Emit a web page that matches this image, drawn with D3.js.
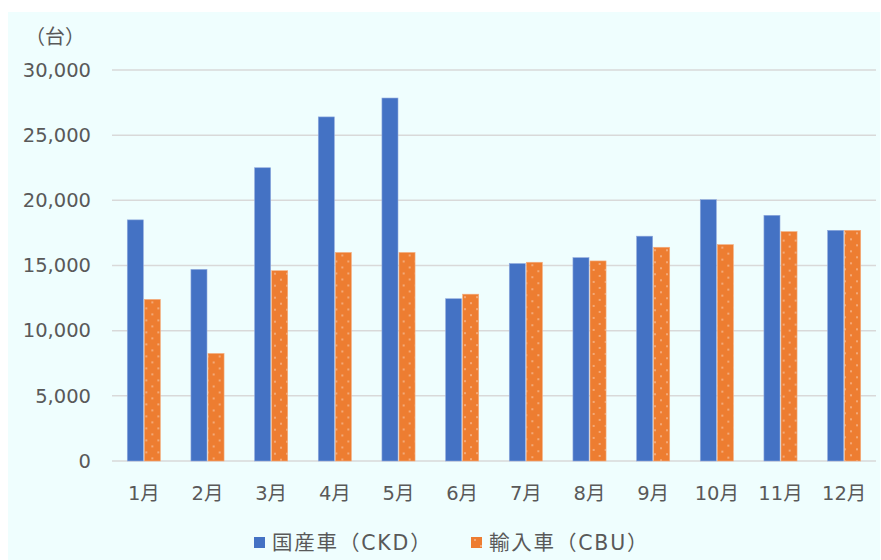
<!DOCTYPE html>
<html>
<head>
<meta charset="utf-8">
<script src="https://cdn.jsdelivr.net/npm/d3@7"></script>
<style>
  body { margin: 0; background: #ffffff; }
  svg text { font-family: "DejaVu Sans", "Noto Sans CJK JP", sans-serif; fill: #595959; }
</style>
</head>
<body>
<svg id="chart" width="881" height="560"></svg>
<script>
// Monthly vehicle sales (units): locally assembled vs. imported
const months = ["1月", "2月", "3月", "4月", "5月", "6月", "7月", "8月", "9月", "10月", "11月", "12月"];
const seriesNames = ["国産車（CKD）", "輸入車（CBU）"];
const ckdUnits = [18500, 14700, 22500, 26400, 27850, 12450, 15150, 15600, 17250, 20050, 18850, 17700];
const cbuUnits = [12400, 8250, 14600, 16000, 16000, 12800, 15250, 15350, 16400, 16600, 17600, 17700];
const yTicks = [0, 5000, 10000, 15000, 20000, 25000, 30000];
const unitLabel = "（台）";

const colors = { ckd: "#4472C4", cbu: "#ED7D31" };
const fontStack = "\"DejaVu Sans\", \"Noto Sans CJK JP\", sans-serif";

const svg = d3.select("#chart");
const W = 881, H = 560;
const plot = { left: 112, right: 876, top: 70, bottom: 461 };

// panel background
svg.append("rect")
  .attr("x", 8).attr("y", 12)
  .attr("width", W - 9).attr("height", H - 12)
  .attr("fill", "#effefe");

const rows = months.map((m, i) => ({ month: m, ckd: ckdUnits[i], cbu: cbuUnits[i] }));
const keys = ["ckd", "cbu"];

const x0 = d3.scaleBand().domain(months).range([plot.left, plot.right]).padding(0);
const bw = x0.bandwidth();
const x1 = d3.scaleBand().domain(keys).range([bw * 0.24, bw * 0.76]).paddingInner(0.06);
const y = d3.scaleLinear().domain([0, 30000]).range([plot.bottom, plot.top]);

// gridlines
svg.append("g")
  .selectAll("line")
  .data(yTicks)
  .join("line")
  .attr("x1", plot.left).attr("x2", plot.right)
  .attr("y1", d => y(d)).attr("y2", d => y(d))
  .attr("stroke", "#d9d9d9")
  .attr("stroke-width", 1.5);

// y axis labels
const yAxis = d3.axisLeft(y).tickValues(yTicks).tickSize(0).tickPadding(0)
  .tickFormat(d3.format(","));
const gy = svg.append("g").attr("transform", "translate(91,0)").call(yAxis);
gy.select(".domain").remove();
gy.selectAll("text").attr("font-size", 19.5).style("fill", "#595959")
  .style("font-family", fontStack);

// unit label
svg.append("text")
  .attr("x", 55).attr("y", 44)
  .attr("text-anchor", "middle")
  .attr("font-size", 20)
  .style("font-family", "\"Noto Sans CJK JP\", sans-serif")
  .text(unitLabel);

// x axis labels
const xAxis = d3.axisBottom(x0).tickSize(0).tickPadding(0);
const gx = svg.append("g").attr("transform", `translate(0,${plot.bottom + 25})`).call(xAxis);
gx.select(".domain").remove();
gx.selectAll("text").attr("font-size", 19.5).attr("dy", "0.71em").style("fill", "#595959")
  .style("font-family", fontStack);

// dotted fill for imported vehicles, one tile origin per bar
const defs = svg.append("defs");
function dotPattern(id, x0pos, y0pos) {
  const p = defs.append("pattern")
    .attr("id", id)
    .attr("patternUnits", "userSpaceOnUse")
    .attr("x", x0pos).attr("y", y0pos)
    .attr("width", 12).attr("height", 12);
  p.append("rect").attr("width", 12).attr("height", 12).attr("fill", colors.cbu);
  p.append("rect").attr("x", 3.3).attr("y", 2.3).attr("width", 1.4).attr("height", 1.4).attr("fill", "#fbd8c0");
  p.append("rect").attr("x", 9.3).attr("y", 8.3).attr("width", 1.4).attr("height", 1.4).attr("fill", "#fbd8c0");
}

const groups = svg.append("g")
  .selectAll("g")
  .data(rows)
  .join("g")
  .attr("transform", d => `translate(${x0(d.month)},0)`);

groups.each(function (d, i) {
  const g = d3.select(this);
  keys.forEach(k => {
    const bx = x1(k);
    const by = y(d[k]);
    let fill = colors[k];
    if (k === "cbu") {
      const id = "dots-" + i;
      dotPattern(id, x0(d.month) + bx, by);
      fill = `url(#${id})`;
    }
    g.append("rect")
      .attr("x", bx)
      .attr("y", by)
      .attr("width", x1.bandwidth())
      .attr("height", y(0) - by)
      .attr("fill", fill)
      .attr("stroke", k === "ckd" ? "#8fa9dd" : "#f4ae80")
      .attr("stroke-width", 0.6);
  });
});

// legend
const legendItems = [
  { key: "ckd", name: seriesNames[0], x: 254 },
  { key: "cbu", name: seriesNames[1], x: 471 }
];
dotPattern("dots-legend", 471, 537);
const lg = svg.append("g");
legendItems.forEach(item => {
  lg.append("rect")
    .attr("x", item.x).attr("y", 537)
    .attr("width", 11).attr("height", 11)
    .attr("fill", item.key === "ckd" ? colors.ckd : "url(#dots-legend)");
  lg.append("text")
    .attr("x", item.x + 18).attr("y", 543)
    .attr("dy", "0.35em")
    .attr("font-size", 20.5)
    .attr("letter-spacing", 1.8)
    .style("font-family", fontStack)
    .text(item.name);
});
</script>
</body>
</html>
